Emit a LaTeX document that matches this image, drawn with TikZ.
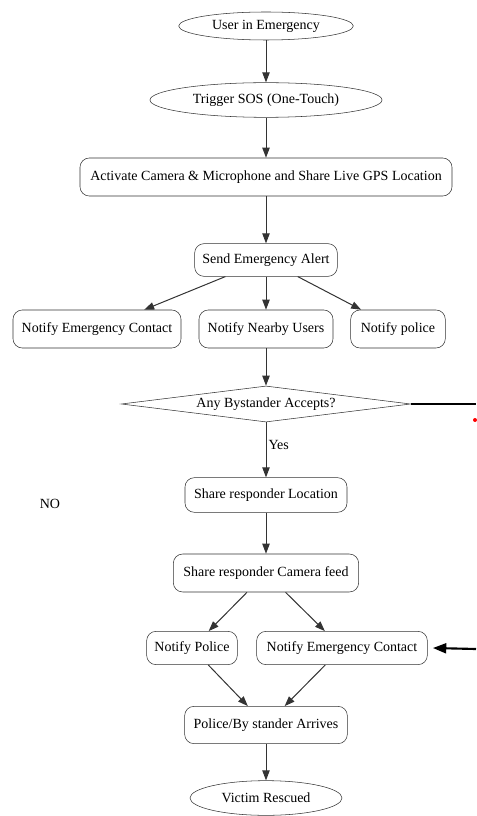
\documentclass[tikz,border=0pt]{standalone}
\usepackage{fontspec}
\setmainfont{Liberation Serif}
\usetikzlibrary{arrows.meta,shapes.geometric}
\tikzset{
	stepnode/.style={draw=black!80, rounded corners=7pt, inner sep=1pt, font=\fontsize{10.5}{12}\selectfont},
	termnode/.style={draw=black!80, ellipse, inner sep=0pt, font=\fontsize{10.5}{12}\selectfont},
	asknode/.style={draw=black!80, diamond, aspect=8, inner sep=0pt, font=\fontsize{10.5}{12}\selectfont},
	flow/.style={draw=black!80, line width=0.75pt, -{Triangle[length=7.5pt,width=5.5pt]}},
	loopline/.style={draw=black, line width=1.6pt}
}
\begin{document}
\begin{tikzpicture}[x=0.75pt, y=-0.75pt]
	\useasboundingbox (0,0) rectangle (476,816);

	% main column
	\node[termnode, minimum width=131pt, minimum height=21pt] (user) at (266,26) {User in Emergency};
	\node[termnode, minimum width=174pt, minimum height=26pt] (sos) at (266,100) {Trigger SOS (One-Touch)};
	\node[stepnode, minimum width=279pt, minimum height=28.5pt] (activate) at (266,177) {Activate Camera \& Microphone and Share Live GPS Location};
	\node[stepnode, minimum width=107pt, minimum height=24.5pt] (alert) at (266,260) {Send Emergency Alert};

	% notifications
	\node[stepnode, minimum width=126pt, minimum height=28.5pt] (contact) at (97,329) {Notify Emergency Contact};
	\node[stepnode, minimum width=100.5pt, minimum height=28.5pt] (nearby) at (266,329) {Notify Nearby Users};
	\node[stepnode, minimum width=71pt, minimum height=28.5pt] (police) at (398,329) {Notify police};

	\node[asknode, minimum width=217pt, minimum height=27pt] (accepts) at (266,404) {Any Bystander Accepts?};
	\node[font=\fontsize{10.5}{12}\selectfont] (no) at (50,504) {NO};

	\node[stepnode, minimum width=121.5pt, minimum height=26pt] (location) at (266,495) {Share responder Location};
	\node[stepnode, minimum width=139pt, minimum height=28.5pt] (feed) at (266,573) {Share responder Camera feed};
	\node[stepnode, minimum width=68pt, minimum height=25pt] (policeb) at (192,648) {Notify Police};
	\node[stepnode, minimum width=128pt, minimum height=25pt] (contactb) at (342,648) {Notify Emergency Contact};
	\node[stepnode, minimum width=122pt, minimum height=28pt] (arrives) at (266,725) {Police/By stander Arrives};
	\node[termnode, minimum width=114pt, minimum height=26pt] (rescued) at (266,798) {Victim Rescued};

	% loose ends at the right border
	\coordinate (noout) at (476,404);
	\coordinate (noin) at (476,649);

	\draw[flow] (user) -- (sos);
	\draw[flow] (sos) -- (activate);
	\draw[flow] (activate) -- (alert);
	\draw[flow] (alert) -- (contact);
	\draw[flow] (alert) -- (nearby);
	\draw[flow] (alert) -- (police);
	\draw[flow] (nearby) -- (accepts);
	\draw[flow] (accepts) -- node[pos=0.42, right, inner sep=1.5pt, font=\fontsize{10.5}{12}\selectfont] {Yes} (location);
	\draw[flow] (location) -- (feed);
	\draw[flow] (feed) -- (policeb);
	\draw[flow] (feed) -- (contactb);
	\draw[flow] (policeb) -- (arrives);
	\draw[flow] (contactb) -- (arrives);
	\draw[flow] (arrives) -- (rescued);

	\draw[loopline] (accepts.east) -- (noout);
	\draw[loopline, -{Triangle[length=10pt,width=7.5pt]}] (noin) -- ([xshift=4pt]contactb.east);

	\fill[red] (475,420) circle [radius=2];
\end{tikzpicture}
\end{document}
